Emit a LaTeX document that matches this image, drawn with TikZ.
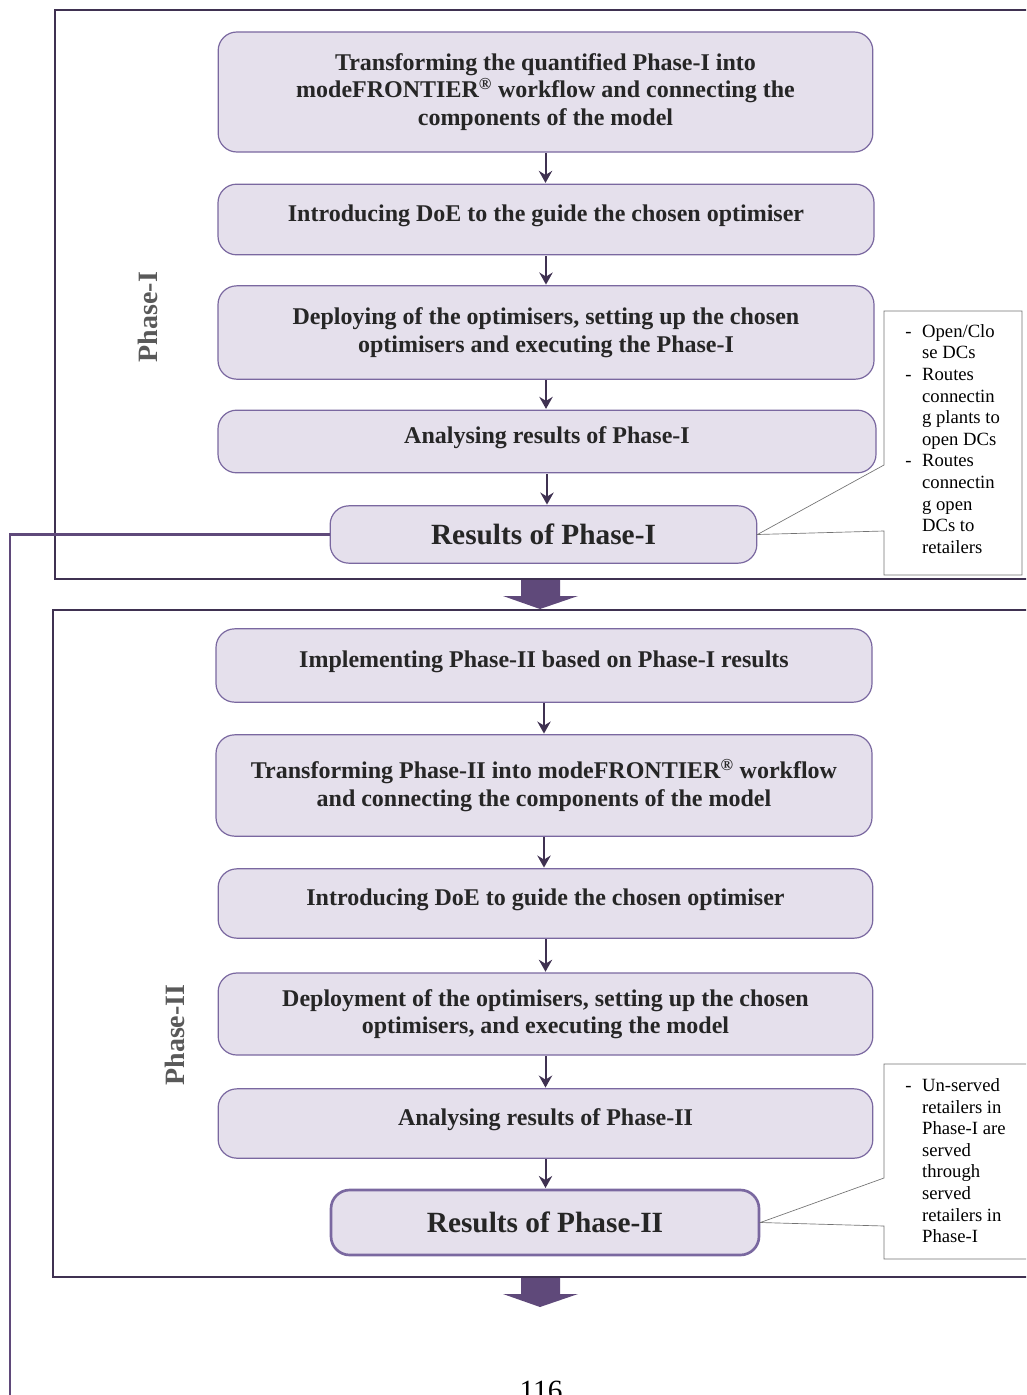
\documentclass[tikz,border=0pt]{standalone}
\usepackage{fontspec}
\setmainfont{Liberation Serif}
\usetikzlibrary{arrows.meta}

\definecolor{lilac}{HTML}{E5E0EC}
\definecolor{plum}{HTML}{5F497A}
\definecolor{inkpurple}{HTML}{3F3151}
\definecolor{edgepurple}{HTML}{7A68A0}

\begin{document}
\begin{tikzpicture}[x=0.75pt,y=-0.75pt,>=Stealth,
  stage/.style={draw=edgepurple,fill=lilac,line width=0.9pt,rounded corners=14pt,
    align=center,inner sep=0pt,text=black!85,
    font=\fontsize{18}{20.6}\selectfont\bfseries},
  oneline/.style={stage,text depth=10pt},
  result/.style={stage,font=\fontsize{22}{24}\selectfont\bfseries},
  flow/.style={-{Stealth[length=9pt,width=10pt,inset=3pt]},inkpurple,line width=1.5pt,
    shorten <=0.5pt,shorten >=0.5pt},
  frame/.style={draw=inkpurple,line width=1.8pt},
  feedback/.style={draw=plum,line width=2.2pt},
  bulk/.style={fill=plum},
  phase/.style={rotate=90,text=black!65,font=\fontsize{21}{24}\selectfont\bfseries},
  callout/.style={draw=black!55,line width=0.5pt,fill=white},
  note/.style={anchor=north west,inner sep=0pt,font=\fontsize{14}{16.2}\selectfont}]
  \clip (0,0) rectangle (1026,1395);
  \useasboundingbox (0,0) rectangle (1026,1395);

  % the two phase frames
  \draw[frame] (55,10) rectangle (1040,579);
  \draw[frame] (53,610) rectangle (1040,1277);
  \node[phase] (lab1) at (148,317) {Phase-I};
  \node[phase] (lab2) at (175,1035) {Phase-II};

  % Phase-I steps
  \node[stage,minimum width=491pt,minimum height=90pt] (s1) at (545.5,92)
    {Transforming the quantified Phase-I into\\
     modeFRONTIER\textsuperscript{\textregistered} workflow and connecting the\\
     components of the model};
  \node[oneline,minimum width=492pt,minimum height=53pt] (s2) at (546,219.5)
    {Introducing DoE to the guide the chosen optimiser};
  \node[stage,minimum width=492pt,minimum height=70pt] (s3) at (546,332.5)
    {Deploying of the optimisers, setting up the chosen\\
     optimisers and executing the Phase-I};
  \node[oneline,minimum width=493.5pt,minimum height=47pt] (s4) at (547,441.5)
    {Analysing results of Phase-I};
  \node[result,minimum width=320pt,minimum height=43pt] (r1) at (543.5,534.5)
    {Results of Phase-I};

  % Phase-II steps
  \node[oneline,minimum width=492pt,minimum height=55pt] (p1) at (544,665.5)
    {Implementing Phase-II based on Phase-I results};
  \node[stage,minimum width=492pt,minimum height=76pt] (p2) at (544,785.5)
    {Transforming Phase-II into modeFRONTIER\textsuperscript{\textregistered} workflow\\
     and connecting the components of the model};
  \node[oneline,minimum width=491pt,minimum height=52pt] (p3) at (545.5,903.5)
    {Introducing DoE to guide the chosen optimiser};
  \node[stage,minimum width=491pt,minimum height=61.5pt] (p4) at (545.5,1014)
    {Deployment of the optimisers, setting up the chosen\\
     optimisers, and executing the model};
  \node[oneline,minimum width=491pt,minimum height=52pt] (p5) at (545.5,1123.5)
    {Analysing results of Phase-II};
  \node[result,line width=2pt,minimum width=321pt,minimum height=48.75pt] (r2) at (545,1222.5)
    {Results of Phase-II};

  % step arrows
  \foreach \a/\b in {s1/s2,s2/s3,s3/s4,s4/r1,p1/p2,p2/p3,p3/p4,p4/p5,p5/r2}
    \draw[flow] (\a) -- (\a |- \b.north);

  % block arrows below the frames
  \foreach \y in {580,1278}
    \fill[bulk] (521,\y) -- (560,\y) -- (560,\y+16) -- (578,\y+16)
      -- (540,\y+29) -- (503,\y+16) -- (521,\y+16) -- cycle;

  % result notes
  \draw[callout] (884,311) -- (1022,311) -- (1022,575) -- (884,575)
    -- (884,531) -- (r1.east) -- (884,465) -- cycle;
  \node[note] (n1) at (905,322) {\begin{tabular}{@{}l@{\hspace{8pt}}l@{}}
    - & Open/Clo\\ & se DCs\\
    - & Routes\\ & connectin\\ & g plants to\\ & open DCs\\
    - & Routes\\ & connectin\\ & g open\\ & DCs to\\ & retailers
  \end{tabular}};
  \draw[callout] (884,1064) -- (1040,1064) -- (1040,1259) -- (884,1259)
    -- (884,1226) -- (r2.east) -- (884,1178) -- cycle;
  \node[note] (n2) at (905,1076) {\begin{tabular}{@{}l@{\hspace{8pt}}l@{}}
    - & Un-served\\ & retailers in\\ & Phase-I are\\ & served\\
      & through\\ & served\\ & retailers in\\ & Phase-I
  \end{tabular}};

  % feedback line from the first results
  \coordinate (tail) at (10,1400);
  \draw[feedback] (r1.west) -| (tail);

  \node[anchor=base,font=\fontsize{22}{24}\selectfont] (page) at (541,1400) {116};
\end{tikzpicture}
\end{document}
